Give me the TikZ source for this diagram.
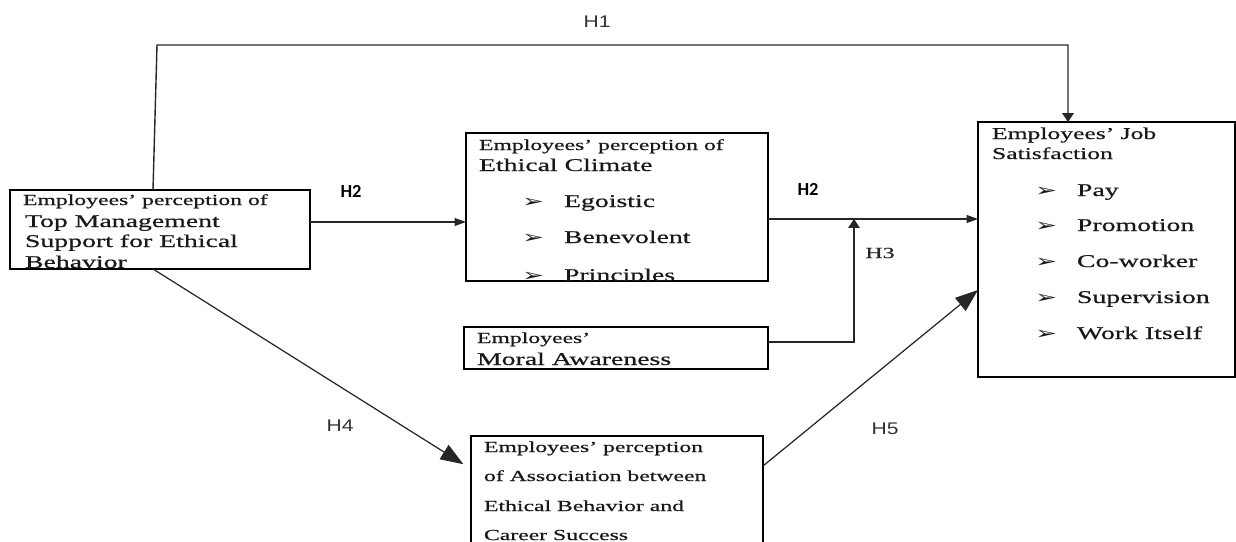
\documentclass[tikz,border=0pt]{standalone}
\usepackage{fontspec}
\setmainfont{Liberation Serif}
\newfontfamily\bxfont[FakeStretch=1.55,FakeBold=0.6]{Liberation Serif}
\newfontfamily\bulfont[FakeStretch=1.5]{DejaVu Sans}
\newfontfamily\labfont[FakeStretch=1.25]{Liberation Sans}
\newfontfamily\labbfont{Carlito}
\usetikzlibrary{arrows.meta}
\begin{document}
\begin{tikzpicture}[x=0.02cm,y=-0.02cm,
  boxn/.style={draw, line width=0.9pt, anchor=north west, inner sep=0pt, outer sep=0pt},
  txt/.style={anchor=base west, inner sep=0pt, outer sep=0pt, text=black!90},
  sm/.style={txt, font=\bxfont\fontsize{8.7}{10}\selectfont},
  lg/.style={txt, font=\bxfont\fontsize{10.2}{12}\selectfont},
  hd/.style={txt, font=\bxfont\fontsize{9.4}{11}\selectfont},
  bl/.style={txt, font=\bulfont\fontsize{10}{12}\selectfont},
  labs/.style={inner sep=0pt, font=\labfont\fontsize{9.6}{11}\selectfont, text=black!80},
  labb/.style={inner sep=0pt, font=\labbfont\bfseries\fontsize{10.5}{12}\selectfont},
  labr/.style={inner sep=0pt, font=\bxfont\fontsize{8.8}{10}\selectfont, text=black!85},
  conn/.style={line width=0.6pt, draw=black!85},
  smallarr/.style={-{Triangle[length=6.5pt,width=4.5pt]}},
  vertarr/.style={-{Triangle[length=5pt,width=6.5pt]}},
  bigarr/.style={-{Triangle[length=13pt,width=9.5pt]}}]
\useasboundingbox (0,0) rectangle (1236,541);
\clip (0,0) rectangle (1236,541);

% boxes
\node[boxn, minimum width=6cm, minimum height=1.58cm] (tm) at (10,190) {};
\node[boxn, minimum width=6.04cm, minimum height=2.96cm] (ec) at (466,133) {};
\node[boxn, minimum width=6.08cm, minimum height=0.84cm] (ma) at (464,327) {};
\node[boxn, minimum width=5.14cm, minimum height=5.1cm] (js) at (978,122) {};
\node[boxn, minimum width=5.84cm, minimum height=2.8cm] (as) at (471,436) {};

% texts (clipped by their boxes)
\begin{scope}
\clip (tm.south west) rectangle (tm.north east);
\node[sm] (tm1) at (23,205) {Employees’ perception of};
\node[lg] (tm2) at (25,227) {Top Management};
\node[lg] (tm3) at (25,247) {Support for Ethical};
\node[lg] (tm4) at (25,268) {Behavior};
\end{scope}

\begin{scope}
\clip (ec.south west) rectangle (ec.north east);
\node[sm] (ec1) at (479,150) {Employees’ perception of};
\node[lg] (ec2) at (479,171) {Ethical Climate};
\node[bl] (ecb1) at (522,207) {➢};
\node[lg] (ec3) at (564,207) {Egoistic};
\node[bl] (ecb2) at (522,243) {➢};
\node[lg] (ec4) at (564,243) {Benevolent};
\node[bl] (ecb3) at (522,281) {➢};
\node[lg] (ec5) at (564,281) {Principles};
\end{scope}

\begin{scope}
\clip (ma.south west) rectangle (ma.north east);
\node[sm] (ma1) at (477,343) {Employees’};
\node[lg] (ma2) at (477,365) {Moral Awareness};
\end{scope}

\begin{scope}
\clip (js.south west) rectangle (js.north east);
\node[hd] (js1) at (992,139) {Employees’ Job};
\node[hd] (js2) at (992,159) {Satisfaction};
\node[bl] (jsb1) at (1035,196) {➢};
\node[lg] (js3) at (1077,196) {Pay};
\node[bl] (jsb2) at (1035,231) {➢};
\node[lg] (js4) at (1077,231) {Promotion};
\node[bl] (jsb3) at (1035,267) {➢};
\node[lg] (js5) at (1077,267) {Co-worker};
\node[bl] (jsb4) at (1035,303) {➢};
\node[lg] (js6) at (1077,303) {Supervision};
\node[bl] (jsb5) at (1035,339) {➢};
\node[lg] (js7) at (1077,339) {Work Itself};
\end{scope}

\begin{scope}
\clip (as.south west) rectangle (as.north east);
\node[sm] (as1) at (484,452) {Employees’ perception};
\node[sm] (as2) at (484,481) {of Association between};
\node[sm] (as3) at (484,511) {Ethical Behavior and};
\node[sm] (as4) at (484,540) {Career Success};
\end{scope}

% helper coordinates
\coordinate (h1s) at (153,190);
\coordinate (h1c) at (157,45);
\coordinate (h1e) at (1068,122);
\coordinate (h2a) at (0,222);
\coordinate (h2b) at (0,219);
\coordinate (h3x) at (854,342);
\coordinate (h4s) at (153,269);
\coordinate (h4t) at (0,469);
\coordinate (h5s) at (0,466);
\coordinate (h5t) at (0,290);

% connectors
\draw[conn, line width=0.8pt, vertarr] (h1s |- tm.north) -- (h1c) -| (h1e |- js.north);
\draw[conn, smallarr] (tm.east |- h2a) -- (ec.west |- h2a);
\draw[conn, smallarr] (ec.east |- h2b) -- (js.west |- h2b);
\draw[conn, vertarr] (ma.east |- h3x) -| (h3x |- h2b);
\draw[conn, line width=0.7pt, bigarr, shorten >=0.18cm] (tm.south -| h4s) -- (as.west |- h4t);
\draw[conn, line width=0.7pt, bigarr] (as.east |- h5s) -- (js.west |- h5t);

% labels
\node[labs] (l1) at (597,22) {H1};
\node[labb] (l2a) at (351,191) {H2};
\node[labb] (l2b) at (808,189) {H2};
\node[labr] (l3) at (880,253) {H3};
\node[labs] (l4) at (340,426) {H4};
\node[labs] (l5) at (885,429) {H5};
\end{tikzpicture}
\end{document}
